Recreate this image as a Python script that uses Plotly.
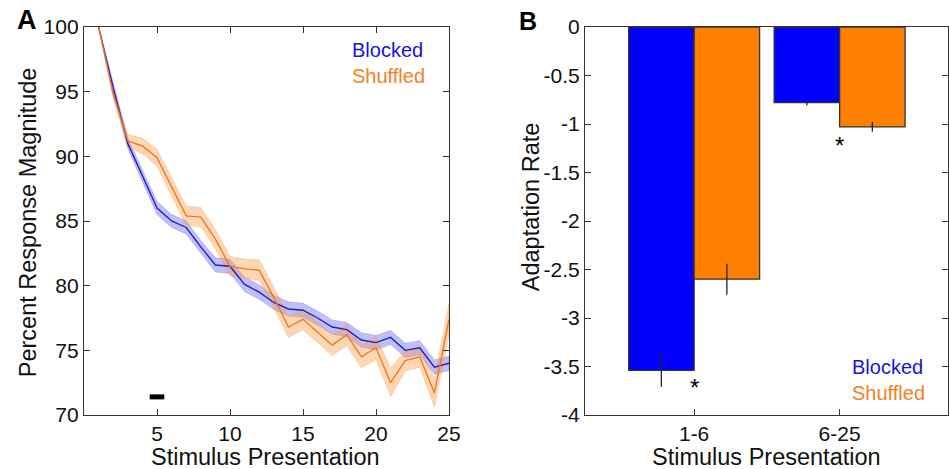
import plotly.graph_objects as go

# ---------------- data ----------------
presentation = list(range(1, 26))
blocked_mean = [100, 95.3, 91.0, 88.5, 86.0, 85.0, 84.5, 83.0, 81.6, 81.5, 80.1, 79.5, 78.7,
                78.2, 78.1, 77.5, 76.8, 76.6, 75.8, 75.6, 76.0, 75.0, 75.2, 73.7, 74.0]
blocked_sem = [0, 0.3, 0.4, 0.45, 0.5, 0.5, 0.5, 0.5, 0.55, 0.55, 0.55, 0.55, 0.55,
               0.55, 0.55, 0.55, 0.55, 0.55, 0.55, 0.55, 0.55, 0.55, 0.55, 0.55, 0.55]
shuffled_mean = [100, 94.8, 91.2, 90.8, 89.9, 87.7, 85.4, 85.3, 83.6, 81.5, 81.3, 81.2, 79.1,
                 76.8, 77.4, 76.4, 75.4, 76.2, 74.5, 75.2, 72.5, 74.2, 74.5, 71.7, 77.4]
shuffled_sem = [0, 0.3, 0.5, 0.6, 0.65, 0.7, 0.75, 0.75, 0.75, 0.75, 0.75, 0.8, 0.8,
                0.8, 0.8, 0.8, 0.8, 0.85, 0.85, 0.9, 1.1, 0.8, 0.8, 1.1, 1.2]
sig_bar_x = [4.5, 5.5]
sig_bar_y = 71.4

bar_categories = ["1-6", "6-25"]
bar_pos = [1, 2]
blocked_rate = [-3.54, -0.78]
blocked_rate_err = [0.17, 0.03]
shuffled_rate = [-2.60, -1.03]
shuffled_rate_err = [0.16, 0.05]
star_y = [-3.68, -1.18]

left_yticks = [70, 75, 80, 85, 90, 95, 100]
left_xticks = [5, 10, 15, 20, 25]
right_yticks = [0, -0.5, -1, -1.5, -2, -2.5, -3, -3.5, -4]
right_yticklabels = ["0", "-0.5", "-1", "-1.5", "-2", "-2.5", "-3", "-3.5", "-4"]

# ---------------- styles ----------------
W, H = 949, 469
ML, MR, MT, MB = 84, 1, 26.6, 54
PW = W - ML - MR
PH = H - MT - MB
FONT = "Liberation Sans, Arial, Helvetica, sans-serif"
AX = "#333333"
BLUE_LINE = "#2020d0"
ORANGE_LINE = "#ee7a1e"
BLUE_FILL = "rgba(70,70,235,0.34)"
ORANGE_FILL = "rgba(250,150,60,0.38)"
BLUE_TXT = "#1414e6"
ORANGE_TXT = "#f5801e"


def px_x(p):
    return (p - ML) / PW


def px_y(p):
    return 1 - (p - MT) / PH


fig = go.Figure()


def band(x, m, s, fill, edge, axis_x, axis_y):
    up = [a + b for a, b in zip(m, s)]
    lo = [a - b for a, b in zip(m, s)]
    return go.Scatter(x=list(x) + list(x)[::-1], y=up + lo[::-1], fill="toself",
                      fillcolor=fill, line=dict(color=edge, width=1), mode="lines",
                      hoverinfo="skip", showlegend=False, xaxis=axis_x, yaxis=axis_y)


fig.add_trace(band(presentation, blocked_mean, blocked_sem, BLUE_FILL,
                   "rgba(70,70,235,0.25)", "x", "y"))
fig.add_trace(band(presentation, shuffled_mean, shuffled_sem, ORANGE_FILL,
                   "rgba(250,150,60,0.3)", "x", "y"))
fig.add_trace(go.Scatter(x=presentation, y=blocked_mean, mode="lines",
                         line=dict(color=BLUE_LINE, width=1.4), showlegend=False,
                         xaxis="x", yaxis="y"))
fig.add_trace(go.Scatter(x=presentation, y=shuffled_mean, mode="lines",
                         line=dict(color=ORANGE_LINE, width=1.4), showlegend=False,
                         xaxis="x", yaxis="y"))
fig.add_trace(go.Scatter(x=sig_bar_x, y=[sig_bar_y, sig_bar_y], mode="lines",
                         line=dict(color="black", width=5), showlegend=False,
                         xaxis="x", yaxis="y"))

fig.add_trace(go.Bar(x=bar_pos, y=blocked_rate, marker=dict(color="#0000ff",
                     line=dict(color="#333333", width=1.3)),
                     error_y=dict(type="data", array=blocked_rate_err, color="#222222",
                                  thickness=1.3, width=0),
                     showlegend=False, xaxis="x2", yaxis="y2"))
fig.add_trace(go.Bar(x=bar_pos, y=shuffled_rate, marker=dict(color="#ff8000",
                     line=dict(color="#333333", width=1.3)),
                     error_y=dict(type="data", array=shuffled_rate_err, color="#222222",
                                  thickness=1.3, width=0),
                     showlegend=False, xaxis="x2", yaxis="y2"))

axcommon = dict(showline=True, linecolor=AX, linewidth=1.3, mirror="ticks",
                ticks="inside", ticklen=6, tickcolor=AX, tickwidth=1.2,
                showgrid=False, zeroline=False, automargin=False,
                tickfont=dict(family=FONT, size=21, color="#111111"))
titlefont = dict(family=FONT, size=23.5, color="#111111")

fig.update_layout(
    width=W, height=H, margin=dict(l=ML, r=MR, t=MT, b=MB, autoexpand=False),
    paper_bgcolor="white", plot_bgcolor="white",
    barmode="group", bargap=0.1, bargroupgap=0,
    xaxis=dict(domain=[0, px_x(449)], range=[0, 25], tickvals=left_xticks,
               anchor="y", **axcommon),
    yaxis=dict(domain=[0, 1], range=[70, 100], tickvals=left_yticks,
               anchor="x", **axcommon),
    xaxis2=dict(domain=[px_x(585), 1], range=[0.25, 2.745], tickvals=bar_pos,
                ticktext=bar_categories, anchor="y2", **axcommon),
    yaxis2=dict(domain=[0, 1], range=[-4, 0], tickvals=right_yticks,
                ticktext=right_yticklabels, anchor="x2", **axcommon),
)


def text(t, xp, yp, font, xanchor="center", angle=0):
    fig.add_annotation(text=t, x=px_x(xp), y=px_y(yp), xref="paper", yref="paper",
                       xanchor=xanchor, yanchor="middle", showarrow=False,
                       textangle=angle, font=font)


# panel letters
text("<b>A</b>", 15, 20, dict(family=FONT, size=27, color="black"), "left")
text("<b>B</b>", 517, 21, dict(family=FONT, size=25, color="black"), "left")
# axis titles
text("Stimulus Presentation", 265, 457, titlefont)
text("Stimulus Presentation", 766, 457, titlefont)
text("Percent Response Magnitude", 28, 222, titlefont, angle=-90)
text("Adaptation Rate", 531, 207, titlefont, angle=-90)
# legends
for t, col, xp, yp in [("Blocked", BLUE_TXT, 350, 50), ("Shuffled", ORANGE_TXT, 350, 76),
                       ("Blocked", BLUE_TXT, 850, 367), ("Shuffled", ORANGE_TXT, 850, 393)]:
    text(t, xp, yp, dict(family=FONT, size=20, color=col), "left")
# significance stars
for xp, yv in zip(bar_pos, star_y):
    fig.add_annotation(text="*", x=xp, y=yv, xref="x2", yref="y2", xanchor="center",
                       yanchor="middle", showarrow=False, yshift=-4,
                       font=dict(family=FONT, size=24, color="black"))

fig.write_html("out.html")
